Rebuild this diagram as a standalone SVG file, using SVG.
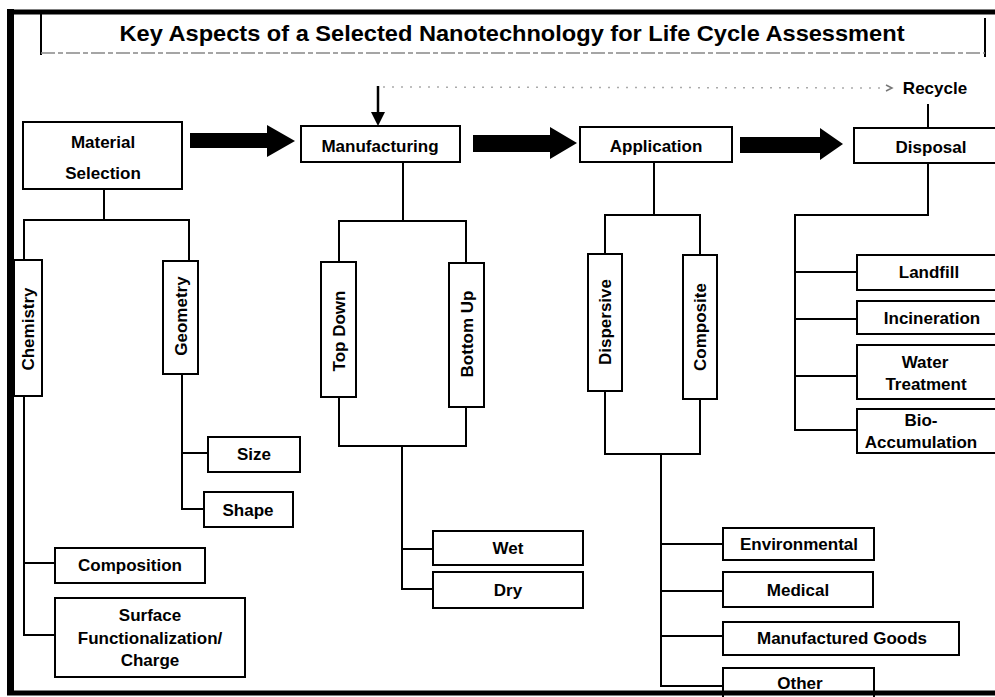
<svg xmlns="http://www.w3.org/2000/svg" width="995" height="697" viewBox="0 0 995 697">
  <defs>
    <style>
      .box { fill: #fff; stroke: #000; stroke-width: 2; }
      .wire { fill: none; stroke: #000; stroke-width: 2; }
      .lbl { font-family: "Liberation Sans", Arial, sans-serif; font-weight: bold; font-size: 17px; fill: #000; text-anchor: middle; dominant-baseline: central; }
      .big { fill: #000; }
    </style>
  </defs>

  <rect width="995" height="697" fill="#fff"/>

  <!-- outer frame -->
  <g id="frame" stroke="#000" fill="none">
    <line x1="10.5" y1="9" x2="10.5" y2="695" stroke-width="7"/>
    <line x1="7" y1="12" x2="995" y2="12" stroke-width="5"/>
  </g>

  <!-- title -->
  <g id="title">
    <line x1="41" y1="14" x2="41" y2="55" stroke="#000" stroke-width="2"/>
    <line x1="985" y1="18" x2="985" y2="57" stroke="#000" stroke-width="2"/>
    <line x1="41" y1="53" x2="985" y2="53" stroke="#888" stroke-width="1.5" stroke-dasharray="14 3 5 3"/>
    <text x="512" y="33" class="lbl" textLength="785" lengthAdjust="spacingAndGlyphs" style="font-size:22.5px">Key Aspects of a Selected Nanotechnology for Life Cycle Assessment</text>
  </g>

  <!-- connectors -->
  <g id="connectors">
    <!-- stage arrows -->
    <path class="big" d="M190 133 H267 V125 L295 141 L267 157 V148 H190 Z"/>
    <path class="big" d="M473 135 H550 V127 L577 143 L550 159 V152 H473 Z"/>
    <path class="big" d="M740 137 H820 V128 L843 144 L820 160 V153 H740 Z"/>

    <!-- recycle loop -->
    <line x1="383" y1="87" x2="886" y2="88" stroke="#aaa" stroke-width="1.5" stroke-dasharray="2 7"/>
    <path d="M886 85 L892 88 L886 91" fill="none" stroke="#777" stroke-width="1.5"/>
    <line x1="378" y1="86" x2="378" y2="114" stroke="#000" stroke-width="2.5"/>
    <path d="M371 112 H385 L378 126 Z" fill="#000"/>
    <line class="wire" x1="928" y1="104" x2="928" y2="128"/>

    <!-- material selection tree -->
    <path class="wire" d="M104 189 V220 M24 260 V220 H189 V261"/>
    <path class="wire" d="M24 396 V635 H55 M24 563 H55"/>
    <path class="wire" d="M182 374 V509 H204 M182 453 H208"/>

    <!-- manufacturing tree -->
    <path class="wire" d="M403 162 V221 M339 262 V221 H466 V263"/>
    <path class="wire" d="M339 397 V446 H466 V407 M402 446 V589 H433 M402 549 H433"/>

    <!-- application tree -->
    <path class="wire" d="M654 162 V215 M605 254 V215 H700 V255"/>
    <path class="wire" d="M605 391 V454 H700 V399 M661 454 V686 H723 M661 544 H723 M661 591 H723 M661 636 H723"/>

    <!-- disposal tree -->
    <path class="wire" d="M928 163 V215 H795 V430 H857 M795 272 H857 M795 319 H857 M795 376 H857"/>
  </g>

  <!-- main stages -->
  <g id="material-selection">
    <rect class="box" x="23" y="122" width="159" height="67"/>
    <text class="lbl" x="103" y="142">Material</text>
    <text class="lbl" x="103" y="173">Selection</text>
  </g>
  <g id="manufacturing">
    <rect class="box" x="301" y="126" width="159" height="36"/>
    <text class="lbl" x="380" y="146">Manufacturing</text>
  </g>
  <g id="application">
    <rect class="box" x="580" y="127" width="152" height="35"/>
    <text class="lbl" x="656" y="146">Application</text>
  </g>
  <g id="disposal">
    <rect class="box" x="854" y="128" width="150" height="35"/>
    <text class="lbl" x="931" y="147">Disposal</text>
  </g>
  <g id="recycle">
    <text class="lbl" x="935" y="88">Recycle</text>
  </g>

  <!-- material selection branches -->
  <g id="chemistry">
    <rect class="box" x="14" y="260" width="28" height="136"/>
    <text class="lbl" transform="translate(28 329) rotate(-90)">Chemistry</text>
  </g>
  <g id="geometry">
    <rect class="box" x="163" y="261" width="35" height="113"/>
    <text class="lbl" transform="translate(181 316) rotate(-90)">Geometry</text>
  </g>
  <g id="size">
    <rect class="box" x="208" y="437" width="92" height="35"/>
    <text class="lbl" x="254" y="454">Size</text>
  </g>
  <g id="shape">
    <rect class="box" x="204" y="492" width="89" height="35"/>
    <text class="lbl" x="248" y="510">Shape</text>
  </g>
  <g id="composition">
    <rect class="box" x="55" y="548" width="150" height="35"/>
    <text class="lbl" x="130" y="565">Composition</text>
  </g>
  <g id="surface">
    <rect class="box" x="55" y="598" width="190" height="79"/>
    <text class="lbl" x="150" y="615">Surface</text>
    <text class="lbl" x="150" y="638">Functionalization/</text>
    <text class="lbl" x="150" y="660">Charge</text>
  </g>

  <!-- manufacturing branches -->
  <g id="top-down">
    <rect class="box" x="321" y="262" width="35" height="135"/>
    <text class="lbl" transform="translate(339 331) rotate(-90)">Top Down</text>
  </g>
  <g id="bottom-up">
    <rect class="box" x="449" y="263" width="35" height="144"/>
    <text class="lbl" transform="translate(467 334) rotate(-90)">Bottom Up</text>
  </g>
  <g id="wet">
    <rect class="box" x="433" y="531" width="150" height="34"/>
    <text class="lbl" x="508" y="548">Wet</text>
  </g>
  <g id="dry">
    <rect class="box" x="433" y="572" width="150" height="36"/>
    <text class="lbl" x="508" y="590">Dry</text>
  </g>

  <!-- application branches -->
  <g id="dispersive">
    <rect class="box" x="588" y="254" width="34" height="137"/>
    <text class="lbl" transform="translate(605 322) rotate(-90)">Dispersive</text>
  </g>
  <g id="composite">
    <rect class="box" x="683" y="255" width="34" height="144"/>
    <text class="lbl" transform="translate(700 327) rotate(-90)">Composite</text>
  </g>
  <g id="environmental">
    <rect class="box" x="723" y="528" width="151" height="32"/>
    <text class="lbl" x="799" y="544">Environmental</text>
  </g>
  <g id="medical">
    <rect class="box" x="723" y="572" width="150" height="35"/>
    <text class="lbl" x="798" y="590">Medical</text>
  </g>
  <g id="manufactured-goods">
    <rect class="box" x="723" y="622" width="236" height="33"/>
    <text class="lbl" x="842" y="638">Manufactured Goods</text>
  </g>
  <g id="other">
    <rect class="box" x="723" y="668" width="151" height="30"/>
    <text class="lbl" x="800" y="683">Other</text>
  </g>

  <!-- disposal branches -->
  <g id="landfill">
    <rect class="box" x="857" y="255" width="150" height="35"/>
    <text class="lbl" x="929" y="272">Landfill</text>
  </g>
  <g id="incineration">
    <rect class="box" x="857" y="301" width="150" height="33"/>
    <text class="lbl" x="932" y="318">Incineration</text>
  </g>
  <g id="water-treatment">
    <rect class="box" x="857" y="345" width="150" height="54"/>
    <text class="lbl" x="925" y="362">Water</text>
    <text class="lbl" x="926" y="384">Treatment</text>
  </g>
  <g id="bio-accumulation">
    <rect class="box" x="857" y="409" width="150" height="44"/>
    <text class="lbl" x="921" y="420">Bio-</text>
    <text class="lbl" x="921" y="442">Accumulation</text>
  </g>

  <!-- frame bottom edge, drawn last so it trims the lowest box -->
  <line x1="7" y1="693" x2="995" y2="693" stroke="#000" stroke-width="5"/>
</svg>
